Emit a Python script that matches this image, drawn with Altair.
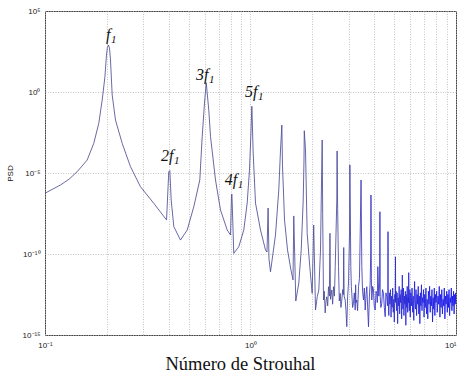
import altair as alt
import pandas as pd

# ---- spectrum: Strouhal number and log10(PSD) ----
st = [
    0.100, 0.108, 0.119, 0.131, 0.1434, 0.1604, 0.1727, 0.1827, 0.1898, 0.1957, 0.1991, 0.2012,
    0.2035, 0.2060, 0.2083, 0.2123, 0.2203, 0.2375, 0.2606, 0.2915, 0.3383, 0.3903,
    0.4002, 0.4050, 0.4112, 0.4234, 0.4564, 0.4920, 0.5298, 0.5666, 0.5820, 0.5972,
    0.6090, 0.6265, 0.6389, 0.6757, 0.7145, 0.7702, 0.7993, 0.8082, 0.8120, 0.8291,
    0.8770, 0.9276, 0.9636, 0.9888, 1.0034, 1.0150, 1.0307, 1.0576, 1.1187, 1.1830,
    1.2030, 1.2180, 1.2300, 1.2510, 1.3230, 1.3730, 1.3996, 1.4210, 1.4310, 1.4640,
    1.5140, 1.5710, 1.6100, 1.6240, 1.6610, 1.7180, 1.7650, 1.8050, 1.8210, 1.8270,
    1.8520, 1.8870, 1.9430, 1.9960, 2.0300, 2.0720, 2.1120, 2.1500, 2.1910, 2.2160,
    2.2330, 2.2450, 2.2660, 2.2850, 2.3090, 2.3300, 2.3510, 2.3750, 2.3970, 2.4200,
    2.4360, 2.4500, 2.4870, 2.5100, 2.5350, 2.5600, 2.5840, 2.6300, 2.6390, 2.6550,
    2.6810, 2.7050, 2.7330, 2.7550, 2.7820, 2.8100, 2.8300, 2.8420, 2.8550, 2.8890,
    2.9150, 2.9420, 2.9700, 2.9990, 3.0330, 3.0450, 3.0770, 3.0950, 3.1110, 3.1400,
    3.1710, 3.2000, 3.2330, 3.2480, 3.2600, 3.2910, 3.3200, 3.3540, 3.3900, 3.4190,
    3.4510, 3.4810, 3.5100, 3.5470, 3.5800, 3.6160, 3.6500, 3.6810, 3.7200, 3.7510,
    3.7900, 3.8230, 3.8450, 3.8570, 3.8750, 3.8930, 3.9300, 3.9670, 4.0000, 4.0440,
    4.0800, 4.1170, 4.1400, 4.1640, 4.2100, 4.2500, 4.2630, 4.2770, 4.3100, 4.3540,
    4.3900, 4.4380, 4.4800, 4.5230, 4.5600, 4.6060, 4.6400, 4.6570, 4.6690, 4.6800,
    4.71, 4.74, 4.77, 4.80, 4.83, 4.86, 4.89, 4.92, 4.95, 4.98,
    5.01, 5.04, 5.062, 5.075, 5.088, 5.11, 5.14, 5.17, 5.20, 5.23,
    5.26, 5.29, 5.32, 5.35, 5.38, 5.41, 5.44, 5.468, 5.481, 5.494,
    5.52, 5.55, 5.58, 5.61, 5.64, 5.67, 5.70, 5.73, 5.76, 5.79,
    5.82, 5.85, 5.872, 5.887, 5.90, 5.93, 5.96, 5.99, 6.03, 6.07,
    6.11, 6.15, 6.19, 6.23, 6.27, 6.29, 6.31, 6.35, 6.39, 6.43,
    6.47, 6.51, 6.55, 6.59, 6.63, 6.67, 6.71, 6.75, 6.79, 6.83,
    6.87, 6.91, 6.95, 6.99, 7.04, 7.09, 7.14, 7.19, 7.24, 7.29,
    7.34, 7.39, 7.44, 7.49, 7.54, 7.59, 7.64, 7.69, 7.74, 7.79,
    7.84, 7.89, 7.94, 7.99, 8.05, 8.11, 8.17, 8.23, 8.29, 8.35,
    8.41, 8.47, 8.53, 8.59, 8.65, 8.71, 8.77, 8.83, 8.89, 8.95,
    9.01, 9.07, 9.13, 9.19, 9.25, 9.31, 9.37, 9.43, 9.49, 9.55,
    9.61, 9.67, 9.73, 9.79, 9.85, 9.91, 9.97, 10.0,
]
psd_exp = [
    -6.25, -6.02, -5.74, -5.38, -4.92, -4.20, -3.17, -1.93, -0.49, 0.94, 2.28, 2.75,
    2.90, 2.72, 1.98, -0.19, -1.73, -3.17, -4.61, -5.85, -6.87, -7.90,
    -4.92, -4.85, -6.67, -8.31, -9.14, -8.52, -7.08, -5.43, -2.76, -0.68,
    0.57, -1.11, -2.76, -5.43, -7.28, -8.52, -8.83, -6.36, -6.30, -9.96,
    -9.55, -8.52, -6.85, -4.81, -2.76, -0.88, -3.77, -6.85, -8.52, -9.75,
    -9.88, -7.16, -10.30, -11.10, -8.83, -6.05, -3.58, -2.04, -4.50, -7.90,
    -9.75, -10.94, -11.60, -7.65, -12.90, -11.79, -9.75, -6.67, -4.20, -2.39,
    -3.58, -8.72, -10.78, -12.43, -8.21, -13.46, -12.64, -12.22, -9.75, -5.62,
    -2.96, -7.50, -12.84, -12.30, -13.64, -12.90, -12.64, -13.20, -12.02, -12.60,
    -8.72, -12.80, -12.22, -13.10, -12.02, -12.60, -10.78, -6.67, -3.64, -7.20,
    -10.78, -12.90, -12.43, -13.30, -12.84, -12.20, -12.50, -9.60, -12.60, -12.84,
    -13.50, -14.49, -12.60, -11.79, -8.70, -4.50, -10.78, -12.00, -12.43, -13.30,
    -13.04, -12.40, -13.46, -11.90, -13.00, -12.84, -13.50, -12.02, -11.50, -8.70,
    -5.43, -10.78, -12.30, -12.84, -12.10, -13.46, -12.50, -12.02, -13.40, -14.49,
    -12.60, -11.79, -10.00, -6.36, -11.50, -12.84, -12.00, -12.22, -13.20, -13.46,
    -12.30, -12.43, -13.00, -10.78, -12.60, -11.80, -7.39, -12.64, -13.30, -13.04,
    -12.20, -12.43, -13.30, -13.87, -12.40, -12.64, -13.20, -12.50, -8.62, -12.90,
    -13.8, -12.4, -13.1, -12.2, -13.9, -12.6, -13.3, -12.1, -13.6, -12.8,
    -14.2, -12.5, -12.9, -10.17, -13.0, -12.3, -13.5, -12.4, -14.3, -12.7,
    -13.2, -12.0, -13.7, -12.5, -13.0, -12.2, -14.0, -12.6, -11.3, -12.9,
    -13.4, -12.1, -13.8, -12.6, -13.1, -12.3, -14.4, -12.5, -13.3, -12.0,
    -13.6, -12.7, -13.0, -11.15, -12.8, -13.5, -12.2, -13.9, -12.4, -13.2,
    -12.1, -13.6, -12.6, -14.1, -12.3, -11.7, -12.9, -13.4, -12.2, -13.8,
    -12.5, -13.1, -12.0, -13.7, -12.6, -14.3, -12.4, -13.2, -11.9, -13.5,
    -12.7, -13.0, -12.2, -13.9, -12.5, -13.3, -12.1, -13.7, -12.8, -14.0,
    -12.3, -13.1, -12.0, -13.6, -12.6, -13.2, -12.2, -14.2, -12.7, -13.4,
    -12.1, -13.8, -12.5, -13.0, -12.3, -13.6, -12.6, -13.1, -12.0, -13.9,
    -12.5, -13.3, -12.2, -13.7, -12.8, -13.2, -12.1, -14.0, -12.6, -13.1,
    -12.3, -13.6, -12.5, -13.3, -12.2, -13.8, -12.7, -13.0, -12.1, -13.5,
    -12.6, -13.2, -12.3, -13.7, -12.5, -13.1, -12.4, -13.0,
]

# harmonic annotations: text, Strouhal position, log10(PSD) of baseline
ann_text = ["f", "2f", "3f", "4f", "5f"]
ann_st = [0.2084, 0.4218, 0.6246, 0.8616, 1.081]
ann_exp = [3.21, -4.26, 0.74, -5.74, -0.29]

y_ticks = [1e-15, 1e-10, 1e-5, 1.0, 1e5]
x_ticks = [0.1, 0.2, 0.3, 0.4, 0.5, 0.6, 0.7, 0.8, 0.9,
           1.0, 2.0, 3.0, 4.0, 5.0, 6.0, 7.0, 8.0, 9.0, 10.0]

df = pd.DataFrame({"St": st, "PSD": [10.0 ** e for e in psd_exp]})
ann = pd.DataFrame({"txt": ann_text, "St": ann_st,
                    "PSD": [10.0 ** e for e in ann_exp], "sub": ["1"] * 5})

xscale = alt.Scale(type="log", domain=[0.1, 10])
yscale = alt.Scale(type="log", domain=[1e-15, 1e5])

grid = dict(grid=True, gridColor="#b4b4b4", gridDash=[1, 1.5], gridWidth=0.8,
            ticks=False, domain=False, labelFont="Liberation Sans",
            labelFontSize=8, labelColor="#222222")

xaxis = alt.Axis(values=x_ticks, labelExpr=(
    "datum.value == 0.1 ? '10⁻¹' : datum.value == 1 ? '10⁰' : "
    "datum.value == 10 ? '10¹' : ''"),
    labelAlign=alt.ConditionalAxisLabelAlign(
        condition={"test": "datum.value == 10", "value": "right"},
        value="center"),
    labelFlush=False, labelOverlap=False, labelPadding=6,
    title="Número de Strouhal", titleFont="Liberation Serif",
    titleFontSize=18.5, titleFontWeight="normal", titleColor="#111111",
    titleX=195, titleY=34, titleBaseline="alphabetic", titleAlign="center",
    **grid)

yaxis = alt.Axis(values=y_ticks, labelExpr=(
    "datum.value > 1e4 ? '10⁵' : datum.value > 0.5 ? '10⁰' : "
    "datum.value > 1e-6 ? '10⁻⁵' : datum.value > 1e-11 ? '10⁻¹⁰' : '10⁻¹⁵'"),
    labelFlush=False, labelOverlap=False, labelPadding=5,
    title="PSD", titleFont="Liberation Sans", titleFontSize=8,
    titleFontWeight="normal", titleColor="#111111",
    titleX=-35, titleY=162, titleBaseline="middle", titleAlign="center",
    titleAngle=270, **grid)

line = alt.Chart(df).mark_line(
    strokeWidth=0.85, clip=True,
    color=alt.Gradient(
        gradient="linear", x1=0, x2=1, y1=0, y2=0,
        stops=[alt.GradientStop(color="#50508e", offset=0),
               alt.GradientStop(color="#4a4a98", offset=0.7),
               alt.GradientStop(color="#2a2ad0", offset=0.84),
               alt.GradientStop(color="#1414ec", offset=1)]),
).encode(
    x=alt.X("St:Q", scale=xscale, axis=xaxis),
    y=alt.Y("PSD:Q", scale=yscale, axis=yaxis),
    order="St:Q",
)

main_txt = alt.Chart(ann).mark_text(
    font="Liberation Serif", fontStyle="italic", fontSize=16,
    align="right", baseline="alphabetic", color="#111111",
).encode(x=alt.X("St:Q", scale=xscale), y=alt.Y("PSD:Q", scale=yscale),
         text="txt:N")

sub_txt = alt.Chart(ann).mark_text(
    font="Liberation Serif", fontStyle="italic", fontSize=11,
    align="left", baseline="alphabetic", dy=3, dx=0.5, color="#111111",
).encode(x=alt.X("St:Q", scale=xscale), y=alt.Y("PSD:Q", scale=yscale),
         text="sub:N")

chart = alt.layer(line, main_txt, sub_txt).properties(
    width=411, height=324,
    autosize=alt.AutoSizeParams(type="none"),
    padding={"left": 45, "top": 11, "right": 1, "bottom": 41},
).configure_view(stroke="#444444", strokeWidth=1)

chart.save("out.html", embed_options={"renderer": "svg", "actions": False})
